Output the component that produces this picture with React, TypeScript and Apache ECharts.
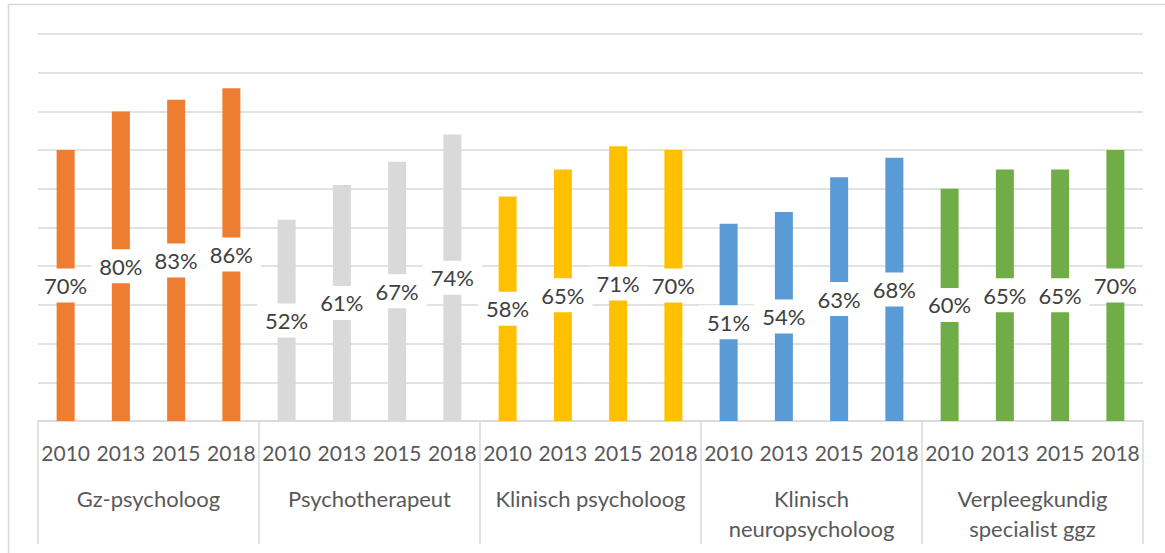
import React, { useEffect, useRef } from "react";
import * as echarts from "echarts";

const groups = [
  "Gz-psycholoog",
  "Psychotherapeut",
  "Klinisch psycholoog",
  "Klinisch\nneuropsycholoog",
  "Verpleegkundig\nspecialist ggz",
];
const years = ["2010", "2013", "2015", "2018"];
const gzPsycholoog = [70, 80, 83, 86];
const psychotherapeut = [52, 61, 67, 74];
const klinischPsycholoog = [58, 65, 71, 70];
const klinischNeuropsycholoog = [51, 54, 63, 68];
const verpleegkundigSpecialist = [60, 65, 65, 70];
const groupValues = [
  gzPsycholoog,
  psychotherapeut,
  klinischPsycholoog,
  klinischNeuropsycholoog,
  verpleegkundigSpecialist,
];
const groupColors = ["#ED7D31", "#D9D9D9", "#FFC000", "#5B9BD5", "#70AD47"];

const FONT = "Lato";

export default function App() {
  const ref = useRef<HTMLDivElement>(null);
  useEffect(() => {
    if (!ref.current) return;
    const chart = echarts.init(ref.current, null, { renderer: "svg" });
    const yearCats: string[] = [];
    const barData: any[] = [];
    groupValues.forEach((vals, gi) => {
      vals.forEach((v, yi) => {
        yearCats.push(years[yi]);
        barData.push({ value: v, itemStyle: { color: groupColors[gi] } });
      });
    });
    chart.setOption({
      animation: false,
      backgroundColor: "#fff",
      textStyle: { fontFamily: FONT },
      graphic: [
        {
          type: "rect",
          shape: { x: 8.5, y: 4.5, width: 1200, height: 600 },
          style: { fill: "none", stroke: "#d9d9d9", lineWidth: 1.5 },
          silent: true,
        },
      ],
      grid: { left: 38, right: 22, top: 34, bottom: 132 },
      xAxis: [
        {
          type: "category",
          data: yearCats,
          position: "bottom",
          axisLine: { show: true, lineStyle: { color: "#d9d9d9", width: 1.5 } },
          axisTick: { show: false },
          axisLabel: {
            interval: 0,
            fontSize: 21,
            color: "#595959",
            margin: 21,
            fontFamily: FONT,
          },
        },
        {
          type: "category",
          data: groups,
          position: "bottom",
          axisLine: { show: false },
          axisTick: {
            show: true,
            length: 123,
            lineStyle: { color: "#d9d9d9", width: 1.5 },
          },
          axisLabel: {
            interval: 0,
            fontSize: 22,
            lineHeight: 30,
            color: "#595959",
            margin: 62,
            fontFamily: FONT,
          },
        },
      ],
      yAxis: {
        type: "value",
        min: 0,
        max: 100,
        interval: 10,
        axisLabel: { show: false },
        axisLine: { show: false },
        axisTick: { show: false },
        splitLine: { lineStyle: { color: "#d9d9d9", width: 1.5 } },
      },
      series: [
        {
          type: "bar",
          xAxisIndex: 0,
          data: barData,
          barWidth: 18,
          label: {
            show: true,
            position: "inside",
            formatter: "{c}%",
            fontSize: 22,
            color: "#404040",
            fontFamily: FONT,
            backgroundColor: "#fff",
            padding: [6, 8],
          },
        },
      ],
    });
    return () => chart.dispose();
  }, []);
  return (
    <div
      ref={ref}
      style={{ position: "absolute", left: 0, top: 0, width: 1165, height: 553 }}
    />
  );
}
